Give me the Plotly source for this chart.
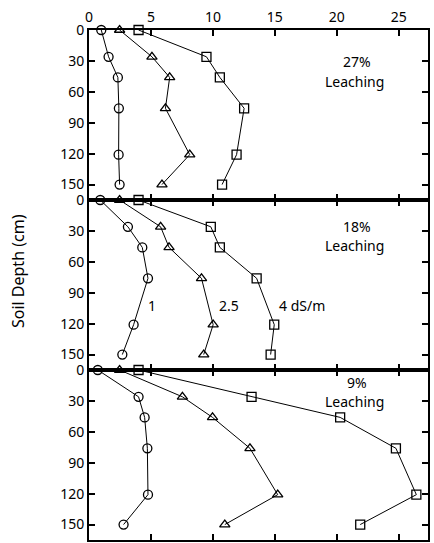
import plotly.graph_objects as go
from plotly.subplots import make_subplots

depths = [0, 26, 46, 76, 121, 150]
panels = ["27%", "18%", "9%"]

# EC values (dS/m) per panel, per irrigation water salinity
ec1_27 = [0.99, 1.58, 2.33, 2.41, 2.39, 2.47]
ec25_27 = [2.47, 5.08, 6.51, 6.17, 8.13, 5.89]
ec4_27 = [4.0, 9.48, 10.56, 12.52, 11.91, 10.74]

ec1_18 = [0.91, 3.14, 4.30, 4.76, 3.60, 2.69]
ec25_18 = [2.47, 5.78, 6.46, 9.08, 10.02, 9.26]
ec4_18 = [4.0, 9.83, 10.56, 13.53, 14.95, 14.66]

ec1_9 = [0.71, 4.0, 4.49, 4.71, 4.76, 2.79]
ec25_9 = [2.47, 7.54, 9.97, 12.99, 15.23, 10.96]
ec4_9 = [4.0, 13.12, 20.27, 24.77, 26.42, 21.89]

x_ticks = [0, 5, 10, 15, 20, 25]
y_ticks = [0, 30, 60, 90, 120, 150]
curve_labels = ["1", "2.5", "4 dS/m"]

series = [
    [ec1_27, ec25_27, ec4_27],
    [ec1_18, ec25_18, ec4_18],
    [ec1_9, ec25_9, ec4_9],
]
symbols = ["circle-open", "triangle-up-open", "square-open"]
sizes = [9, 9, 9]

FONT = "Noto Sans"

fig = make_subplots(rows=3, cols=1, vertical_spacing=0)

for r, group in enumerate(series, start=1):
    for vals, sym, sz in zip(group, symbols, sizes):
        fig.add_trace(go.Scatter(
            x=vals, y=depths, mode="lines+markers",
            line=dict(color="black", width=1),
            marker=dict(symbol=sym, size=sz, color="black",
                        line=dict(color="black", width=1.3)),
            showlegend=False, cliponaxis=False,
        ), row=r, col=1)

for r in range(1, 4):
    fig.update_xaxes(
        range=[0, 27.36], tickvals=x_ticks, ticks="inside", ticklen=6,
        tickwidth=1.5, tickcolor="black", showline=True, linecolor="black",
        linewidth=2, mirror="ticks", showgrid=False, zeroline=False,
        showticklabels=(r == 1), side="top",
        tickfont=dict(family=FONT, size=14, color="black"),
        row=r, col=1)
    fig.update_yaxes(
        range=[165, 0], tickvals=y_ticks, ticks="inside", ticklen=6,
        tickwidth=1.5, tickcolor="black", showline=True, linecolor="black",
        linewidth=2, mirror="ticks", showgrid=False, zeroline=False,
        tickfont=dict(family=FONT, size=14, color="black"),
        row=r, col=1)

W, H = 434, 543
L, R, T, B = 89, 6, 30, 1
pw, ph = W - L - R, H - T - B

def px(xp):
    return (xp - L) / pw

def py(yp):
    return 1 - (yp - T) / ph

def txt(t, xp, yp, size=14, angle=0):
    return dict(text=t, x=px(xp), y=py(yp), xref="paper", yref="paper",
                xanchor="center", yanchor="middle", textangle=angle,
                showarrow=False, font=dict(family=FONT, size=size, color="black"))

pct_y = [62, 227, 384]
leach_y = [82, 246, 403]
annotations = []
for i, p in enumerate(panels):
    annotations.append(txt(p, 357, pct_y[i]))
    annotations.append(txt("Leaching", 354, leach_y[i]))
for t, xp in zip(curve_labels, [152, 229, 302]):
    annotations.append(txt(t, xp, 307))
annotations.append(txt("Soil Depth (cm)", 18, 272, size=16, angle=-90))

fig.update_layout(
    width=W, height=H, margin=dict(l=L, r=R, t=T, b=B),
    paper_bgcolor="white", plot_bgcolor="white",
    annotations=annotations,
)

fig.write_html("out.html")
